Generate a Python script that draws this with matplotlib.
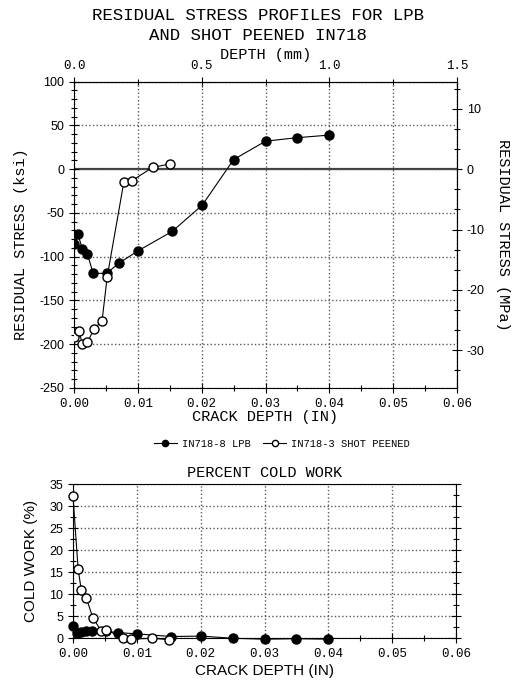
import matplotlib
matplotlib.use("Agg")
import matplotlib.pyplot as plt
from matplotlib.ticker import MultipleLocator, FixedLocator, FormatStrFormatter
from matplotlib.lines import Line2D

plt.rcParams["axes.unicode_minus"] = False

# === Data ===
lpb_depth = [0.0, 0.0006, 0.0013, 0.0021, 0.0030, 0.0051, 0.0071, 0.0101,
             0.0154, 0.0201, 0.0250, 0.0300, 0.0349, 0.0400]
lpb_stress = [-86, -74, -91, -97, -119, -119, -107, -93, -71, -41, 11, 32, 36, 39]
lpb_cold = [2.8, 1.3, 1.5, 1.6, 1.7, 1.6, 1.3, 1.0, 0.4, 0.5, 0.0, -0.2, -0.1, -0.2]

sp_depth = [0.0, 0.0008, 0.0013, 0.0021, 0.0031, 0.0044, 0.0052, 0.0078,
            0.0091, 0.0123, 0.0150]
sp_stress = [-192, -185, -200, -198, -183, -173, -123, -15, -13, 2, 6]
sp_cold = [32.3, 15.8, 10.9, 9.1, 4.7, 1.7, 2.0, 0.0, -0.2, 0.0, -0.3]

mm_ticks = [0.0, 0.5, 1.0, 1.5]
mm_minor = [0.25, 0.75, 1.25]
mpa_ticks = [-30, -20, -10, 0, 10]

KSI_PER_UNIT = 6.895   # right axis scaling as drawn in the original
IN_TO_MM = 25.0

MONO = "Liberation Mono"
SANS = "Liberation Sans"

fig = plt.figure(figsize=(5.16, 6.81), dpi=100)

# --- titles ---
fig.text(0.5, 1 - 15 / 681, "RESIDUAL STRESS PROFILES FOR LPB", ha="center",
         va="center", fontsize=12.5, family=MONO)
fig.text(0.5, 1 - 35 / 681, "AND SHOT PEENED IN718", ha="center",
         va="center", fontsize=12.5, family=MONO)

# === Top plot: residual stress ===
ax1 = fig.add_axes([74 / 516, 1 - 388 / 681, 383 / 516, (388 - 81.7) / 681])
ax1.set_xlim(0, 0.06)
ax1.set_ylim(-250, 100)
ax1.xaxis.set_major_locator(MultipleLocator(0.01))
ax1.xaxis.set_minor_locator(MultipleLocator(0.005))
ax1.xaxis.set_major_formatter(FormatStrFormatter("%.2f"))
ax1.yaxis.set_major_locator(MultipleLocator(50))
ax1.yaxis.set_minor_locator(MultipleLocator(10))
ax1.grid(True, which="major", linestyle=":", color="0.35", linewidth=1)
ax1.axhline(0, color="0.25", linewidth=1.6, zorder=1)

ax1.plot(lpb_depth, lpb_stress, "-o", color="black", lw=0.8, ms=6.5,
         mfc="black", mec="black", zorder=3)
ax1.plot(sp_depth, sp_stress, "-o", color="black", lw=0.8, ms=6.5,
         mfc="white", mec="black", zorder=4)

ax1.tick_params(which="major", direction="inout", length=7, width=0.8)
ax1.tick_params(which="minor", direction="inout", length=4, width=0.8)
ax1.tick_params(axis="x", labelsize=9)
ax1.tick_params(axis="y", labelsize=9)
for lab in ax1.get_xticklabels():
    lab.set_family(MONO)
for lab in ax1.get_yticklabels():
    lab.set_family(SANS)
ax1.set_xlabel("CRACK DEPTH (IN)", family=MONO, fontsize=11, labelpad=0)
ax1.set_ylabel("RESIDUAL STRESS (ksi)", family=MONO, fontsize=11)
ax1.yaxis.set_label_coords(-0.12, 0.47)

secx = ax1.secondary_xaxis("top", functions=(lambda x: x * IN_TO_MM,
                                             lambda x: x / IN_TO_MM))
secx.xaxis.set_major_locator(FixedLocator(mm_ticks))
secx.xaxis.set_minor_locator(FixedLocator(mm_minor))
secx.xaxis.set_major_formatter(FormatStrFormatter("%.1f"))
secx.tick_params(which="major", direction="inout", length=7, width=0.8, labelsize=9)
secx.tick_params(which="minor", direction="inout", length=4, width=0.8)
for lab in secx.get_xticklabels():
    lab.set_family(MONO)
secx.set_xlabel("DEPTH (mm)", family=MONO, fontsize=11, labelpad=1)

secy = ax1.secondary_yaxis("right", functions=(lambda y: y / KSI_PER_UNIT,
                                               lambda y: y * KSI_PER_UNIT))
secy.yaxis.set_major_locator(FixedLocator(mpa_ticks))
secy.yaxis.set_minor_locator(MultipleLocator(10 / 3))
secy.tick_params(which="major", direction="inout", length=7, width=0.8, labelsize=9)
secy.tick_params(which="minor", direction="inout", length=4, width=0.8)
for lab in secy.get_yticklabels():
    lab.set_family(SANS)
secy.set_ylabel("RESIDUAL STRESS (MPa)", family=MONO, fontsize=11,
                rotation=270, labelpad=18)

# --- legend ---
handles = [
    Line2D([], [], color="black", lw=0.8, marker="o", ms=4.5, mfc="black", mec="black"),
    Line2D([], [], color="black", lw=0.8, marker="o", ms=4.5, mfc="white", mec="black"),
]
fig.legend(handles, ["IN718-8 LPB", "IN718-3 SHOT PEENED"], loc="center",
           bbox_to_anchor=(282 / 516, 1 - 444 / 681), ncol=2, frameon=False,
           prop={"family": MONO, "size": 7.5}, handlelength=2.2,
           handletextpad=0.5, columnspacing=1.2)

# === Bottom plot: percent cold work ===
ax2 = fig.add_axes([73 / 516, 1 - 638.3 / 681, 383 / 516, 154 / 681])
ax2.set_xlim(0, 0.06)
ax2.set_ylim(0, 35)
ax2.xaxis.set_major_locator(MultipleLocator(0.01))
ax2.xaxis.set_minor_locator(MultipleLocator(0.005))
ax2.xaxis.set_major_formatter(FormatStrFormatter("%.2f"))
ax2.yaxis.set_major_locator(MultipleLocator(5))
ax2.yaxis.set_minor_locator(MultipleLocator(2.5))
ax2.grid(True, which="major", linestyle=":", color="0.35", linewidth=1)

ax2.plot(lpb_depth, lpb_cold, "-o", color="black", lw=0.8, ms=6.5,
         mfc="black", mec="black", zorder=3, clip_on=False)
ax2.plot(sp_depth, sp_cold, "-o", color="black", lw=0.8, ms=6.5,
         mfc="white", mec="black", zorder=4, clip_on=False)

ax2.tick_params(which="major", direction="inout", length=7, width=0.8,
                right=True)
ax2.tick_params(which="minor", direction="inout", length=4, width=0.8,
                right=True)
ax2.tick_params(axis="x", labelsize=9)
ax2.tick_params(axis="y", labelsize=9)
for lab in ax2.get_xticklabels():
    lab.set_family(MONO)
for lab in ax2.get_yticklabels():
    lab.set_family(SANS)
ax2.set_title("PERCENT COLD WORK", family=MONO, fontsize=11, pad=5)
ax2.set_xlabel("CRACK DEPTH (IN)", family=SANS, fontsize=11, labelpad=3)
ax2.set_ylabel("COLD WORK (%)", family=SANS, fontsize=11, labelpad=8)

fig.savefig("out.png", dpi=100)
